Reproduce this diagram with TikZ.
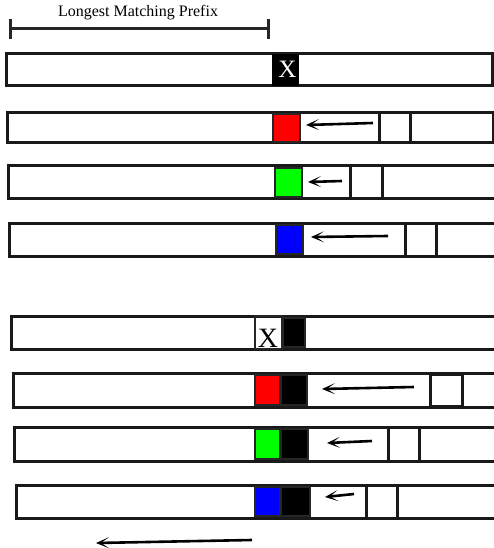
\documentclass[tikz,border=0pt]{standalone}
\usepackage{fontspec}
\setmainfont{Liberation Serif}
\usetikzlibrary{arrows.meta}
\tikzset{
  bar/.style={draw=black!90, line width=3pt},
  sbox/.style={draw=black!90, line width=3pt},
  cbox/.style={draw=black!85, line width=2pt},
  arr/.style={line width=2.6pt, -{Stealth[length=13pt,width=11pt,inset=8pt]}},
  brk/.style={line width=3pt, draw=black!85},
}
\begin{document}
\begin{tikzpicture}[x=1pt,y=-1pt]
\clip (0,0) rectangle (494,548);
\fill[white] (0,0) rectangle (494,548);
% bracket
\coordinate (bl) at (10,29);
\coordinate (br) at (268,29);
\draw[brk] (bl) -- (br);
\draw[brk] (10,19) -- (10,39);
\draw[brk] (268,19) -- (268,39);
\node[font=\fontsize{16}{18}\selectfont] (lmp) at (138,13) {Longest Matching Prefix};
% row 1
\draw[bar] (6,54) rectangle (492,86);
\fill[black] (272,54) rectangle (299,86);
\node[text=white, font=\fontsize{25}{25}\selectfont, inner sep=0pt, anchor=base] (x1) at (287.5,77.5) {X};
% row 2
\draw[bar] (7,113) rectangle (493,143);
\draw[cbox, fill=red] (273,114) rectangle (300,142);
\draw[sbox] (379,113) rectangle (410,143);
\coordinate (a2s) at (373,123); \coordinate (a2e) at (306,125);
\draw[arr] (a2s) -- (a2e);
% row 3
\draw[bar] (8,166) rectangle (510,198);
\draw[cbox, fill=green] (275,168) rectangle (302,197);
\draw[sbox] (350,166) rectangle (382,198);
\coordinate (a3s) at (342,181); \coordinate (a3e) at (308,182);
\draw[arr] (a3s) -- (a3e);
% row 4
\draw[bar] (9,223) rectangle (510,256);
\draw[cbox, fill=blue] (276,225) rectangle (303,254);
\draw[sbox] (405,223) rectangle (436,256);
\coordinate (a4s) at (388,236); \coordinate (a4e) at (311,237);
\draw[arr] (a4s) -- (a4e);
% row 5
\draw[bar] (11,316) rectangle (510,349);
\begin{scope}
\clip (255,316) rectangle (282,349);
\node[font=\fontsize{28}{28}\selectfont, inner sep=0pt, anchor=base] (x5) at (268,347) {X};
\end{scope}
\draw[cbox] (255,316) rectangle (282,349);
\draw[cbox, fill=black] (283,318) rectangle (305,347);
% row 6
\draw[bar] (13,373) rectangle (510,407);
\draw[cbox, fill=red] (255,375) rectangle (280,405);
\draw[cbox, fill=black] (281,375) rectangle (307,405);
\draw[sbox] (430,374) rectangle (462,406);
\coordinate (a6s) at (414,387); \coordinate (a6e) at (322,389);
\draw[arr] (a6s) -- (a6e);
% row 7
\draw[bar] (14,427) rectangle (510,461);
\draw[cbox, fill=green] (255,429) rectangle (280,459);
\draw[cbox, fill=black] (281,429) rectangle (308,459);
\draw[sbox] (388,427) rectangle (419,461);
\coordinate (a7s) at (372,441); \coordinate (a7e) at (327,443);
\draw[arr] (a7s) -- (a7e);
% row 8
\draw[bar] (16,485) rectangle (510,518);
\draw[cbox, fill=blue] (255,487) rectangle (280,516);
\draw[cbox, fill=black] (281,487) rectangle (310,516);
\draw[sbox] (366,485) rectangle (397,518);
\coordinate (a8s) at (354,494); \coordinate (a8e) at (325,497);
\draw[arr] (a8s) -- (a8e);
% bottom arrow
\coordinate (bs) at (252,540); \coordinate (be) at (96,543);
\draw[arr] (bs) -- (be);
\end{tikzpicture}
\end{document}
